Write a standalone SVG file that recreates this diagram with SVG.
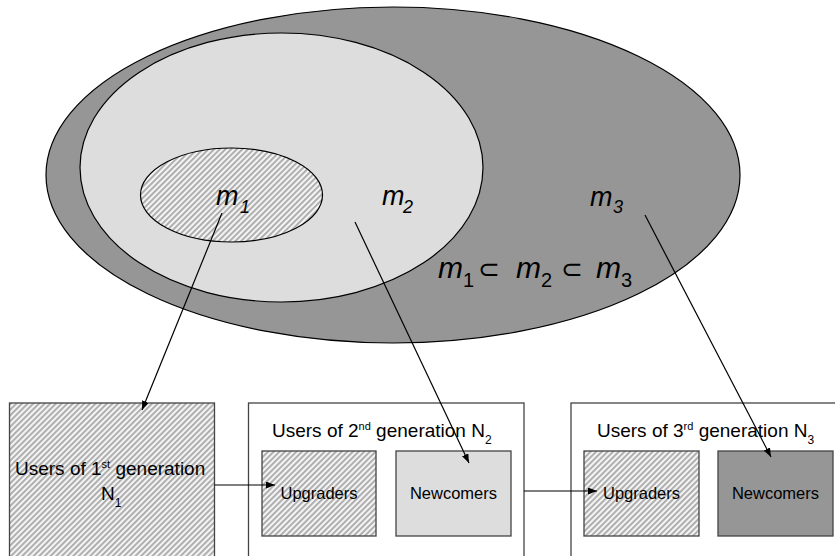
<svg xmlns="http://www.w3.org/2000/svg" width="835" height="556" viewBox="0 0 835 556">
<defs>
<style>
.t{font-family:"Liberation Sans",Arial,sans-serif;fill:#000}
.it{font-style:italic}
.lbl{font-size:27px}
.sub{font-size:18px}
.box{stroke:#444;stroke-width:1.3}
.ell{stroke:#000;stroke-width:1.2}
.conn{stroke:#000;stroke-width:1.2;fill:none}
</style>
<pattern id="hatch" patternUnits="userSpaceOnUse" width="4" height="4" patternTransform="rotate(45)">
<rect width="4" height="4" fill="#f4f4f4"/>
<rect x="0" y="0" width="1.8" height="4" fill="#a8a8a8"/>
</pattern>
<marker id="arr" markerUnits="userSpaceOnUse" markerWidth="9" markerHeight="7" refX="9" refY="3.5" orient="auto">
<path d="M0,0 L9,3.5 L0,7 z" fill="#000"/>
</marker>
</defs>
<rect width="835" height="556" fill="#fff"/>

<g id="m3-set">
<ellipse class="ell" cx="393" cy="175" rx="347" ry="168" fill="#969696"/>
<text class="t it lbl" x="590" y="206">m</text>
<text class="t it sub" x="613" y="213">3</text>
</g>
<g id="m2-set">
<ellipse class="ell" cx="281.5" cy="167.5" rx="201.5" ry="134.5" fill="#dddddd"/>
<text class="t it lbl" x="382" y="205">m</text>
<text class="t it sub" x="403" y="213">2</text>
</g>
<g id="m1-set">
<ellipse class="ell" cx="231.5" cy="195" rx="91" ry="47" fill="url(#hatch)"/>
<text class="t it lbl" x="216" y="205">m</text>
<text class="t it sub" x="240" y="213">1</text>
</g>
<g id="formula">
<text class="t it" x="438" y="278" font-size="30">m</text>
<text class="t" x="463" y="287" font-size="20">1</text>
<text class="t" x="478" y="278" font-size="26">⊂</text>
<text class="t it" x="516" y="278" font-size="30">m</text>
<text class="t" x="541" y="287" font-size="20">2</text>
<text class="t" x="561" y="278" font-size="26">⊂</text>
<text class="t it" x="596" y="278" font-size="30">m</text>
<text class="t" x="621" y="287" font-size="20">3</text>
</g>

<g id="gen1">
<rect class="box" x="9.5" y="403" width="205" height="160" fill="url(#hatch)"/>
<text class="t" x="15" y="475" font-size="19">Users of 1<tspan font-size="11" dy="-7">st</tspan><tspan dy="7"> generation</tspan></text>
<text class="t" x="101" y="500" font-size="19">N<tspan font-size="12" dy="7">1</tspan></text>
</g>

<g id="gen2">
<rect class="box" x="248.5" y="403" width="275.5" height="160" fill="#fff"/>
<text class="t" x="272" y="437" font-size="19">Users of 2<tspan font-size="11" dy="-7">nd</tspan><tspan dy="7"> generation N</tspan><tspan font-size="12" dy="7">2</tspan></text>
</g>
<g id="upgraders2">
<rect class="box" x="262" y="451" width="114" height="85" fill="url(#hatch)"/>
<text class="t" x="319" y="499" font-size="16.5" text-anchor="middle">Upgraders</text>
</g>
<g id="newcomers2">
<rect class="box" x="396" y="451" width="115" height="85" fill="#dddddd"/>
<text class="t" x="453.5" y="499" font-size="16.5" text-anchor="middle">Newcomers</text>
</g>

<g id="gen3">
<rect class="box" x="571" y="403" width="280" height="160" fill="#fff"/>
<text class="t" x="597" y="437" font-size="19">Users of 3<tspan font-size="11" dy="-7">rd</tspan><tspan dy="7"> generation N</tspan><tspan font-size="12" dy="7">3</tspan></text>
</g>
<g id="upgraders3">
<rect class="box" x="584" y="451" width="115" height="85" fill="url(#hatch)"/>
<text class="t" x="641.5" y="499" font-size="16.5" text-anchor="middle">Upgraders</text>
</g>
<g id="newcomers3">
<rect class="box" x="718" y="451" width="115" height="85" fill="#969696"/>
<text class="t" x="775.5" y="499" font-size="16.5" text-anchor="middle">Newcomers</text>
</g>

<g id="connectors">
<line class="conn" x1="222" y1="213" x2="142" y2="410" marker-end="url(#arr)"/>
<line class="conn" x1="355" y1="222" x2="469" y2="463" marker-end="url(#arr)"/>
<line class="conn" x1="645" y1="215" x2="771" y2="457" marker-end="url(#arr)"/>
<line class="conn" x1="214.5" y1="485" x2="275" y2="485" marker-end="url(#arr)"/>
<line class="conn" x1="524" y1="491" x2="597" y2="491" marker-end="url(#arr)"/>
</g>
</svg>
